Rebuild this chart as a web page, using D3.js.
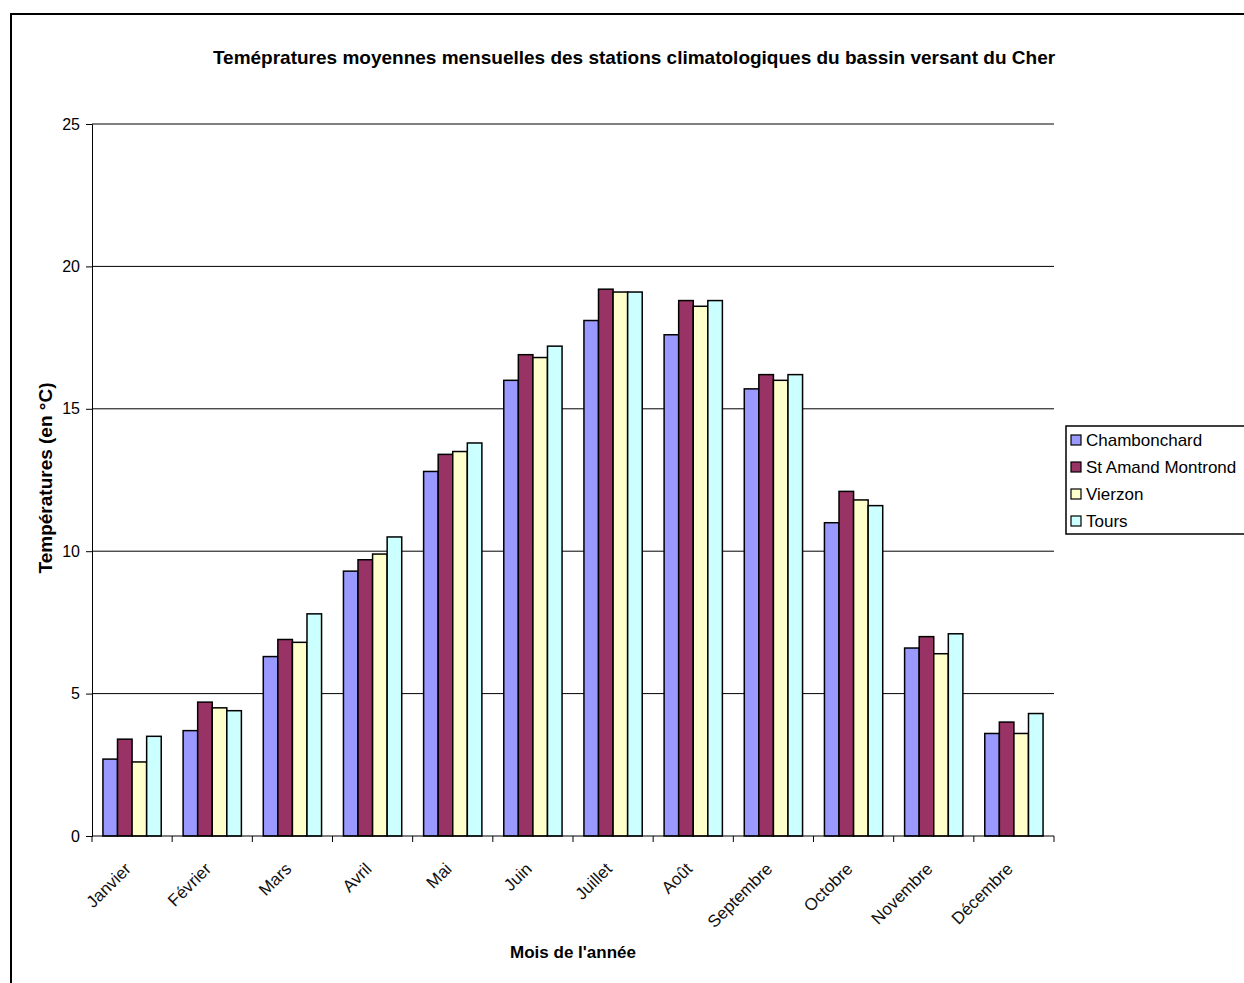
<!DOCTYPE html>
<html>
<head>
<meta charset="utf-8">
<script src="https://cdn.jsdelivr.net/npm/d3@7"></script>
<style>
  body { margin: 0; background: #fff; }
  svg { font-family: Arial, "Liberation Sans", sans-serif; }
</style>
</head>
<body>
<div id="chart"></div>
<script>
// Data
const months = ["Janvier", "Février", "Mars", "Avril", "Mai", "Juin", "Juillet", "Août", "Septembre", "Octobre", "Novembre", "Décembre"];
const stations = ["Chambonchard", "St Amand Montrond", "Vierzon", "Tours"];
const chambonchard = [2.7, 3.7, 6.3, 9.3, 12.8, 16.0, 18.1, 17.6, 15.7, 11.0, 6.6, 3.6];
const stAmand = [3.4, 4.7, 6.9, 9.7, 13.4, 16.9, 19.2, 18.8, 16.2, 12.1, 7.0, 4.0];
const vierzon = [2.6, 4.5, 6.8, 9.9, 13.5, 16.8, 19.1, 18.6, 16.0, 11.8, 6.4, 3.6];
const tours = [3.5, 4.4, 7.8, 10.5, 13.8, 17.2, 19.1, 18.8, 16.2, 11.6, 7.1, 4.3];
const yTicks = [0, 5, 10, 15, 20, 25];
const colors = ["#9999ff", "#993366", "#ffffcc", "#ccffff"];

const seriesValues = [chambonchard, stAmand, vierzon, tours];

const W = 1244, H = 983;
const margin = { top: 124, left: 92 };
const width = 1054 - margin.left;
const height = 836 - margin.top;

const svg = d3.select("#chart").append("svg")
    .attr("width", W)
    .attr("height", H);

// Outer frame (only top and left are visible)
svg.append("rect")
    .attr("x", 11).attr("y", 14)
    .attr("width", W + 20).attr("height", H + 20)
    .attr("fill", "none")
    .attr("stroke", "#000")
    .attr("stroke-width", 2);

const g = svg.append("g")
    .attr("transform", `translate(${margin.left},${margin.top})`);

// Scales
const x0 = d3.scaleBand()
    .domain(months)
    .range([0, width])
    .paddingInner(0.273)
    .paddingOuter(0.1365);

const x1 = d3.scaleBand()
    .domain(stations)
    .range([0, x0.bandwidth()]);

const y = d3.scaleLinear()
    .domain([0, 25])
    .range([height, 0]);

// Gridlines
g.selectAll(".grid")
    .data(yTicks.filter(d => d > 0))
    .enter()
    .append("line")
    .attr("class", "grid")
    .attr("x1", 0).attr("x2", width)
    .attr("y1", d => y(d)).attr("y2", d => y(d))
    .attr("stroke", "#000")
    .attr("stroke-width", 1);

// Bars
const groups = g.selectAll(".month")
    .data(months)
    .enter()
    .append("g")
    .attr("class", "month")
    .attr("transform", d => `translate(${x0(d)},0)`);

groups.selectAll("rect")
    .data((m, i) => stations.map((s, j) => ({ station: s, value: seriesValues[j][i], idx: j })))
    .enter()
    .append("rect")
    .attr("x", d => x1(d.station))
    .attr("y", d => y(d.value))
    .attr("width", x1.bandwidth())
    .attr("height", d => height - y(d.value))
    .attr("fill", d => colors[d.idx])
    .attr("stroke", "#000")
    .attr("stroke-width", 1.5);

// Y axis
const yAxis = d3.axisLeft(y).tickValues(yTicks).tickSize(6).tickPadding(6);
const yG = g.append("g").call(yAxis);
yG.select(".domain").attr("stroke", "#000");
yG.selectAll("text").style("font-size", "16px").attr("fill", "#000");

// X axis, ticks between the groups
const step = width / months.length;
const xG = g.append("g").attr("transform", `translate(0,${height})`);
xG.append("line")
    .attr("x1", 0).attr("x2", width)
    .attr("y1", 0).attr("y2", 0)
    .attr("stroke", "#000");
xG.selectAll(".xtick")
    .data(d3.range(months.length + 1))
    .enter()
    .append("line")
    .attr("x1", i => i * step).attr("x2", i => i * step)
    .attr("y1", 0).attr("y2", 6)
    .attr("stroke", "#000");
xG.selectAll(".xlabel")
    .data(months)
    .enter()
    .append("text")
    .attr("text-anchor", "end")
    .attr("transform", d => `translate(${x0(d) + x0.bandwidth() / 2},34) rotate(-45)`)
    .style("font-size", "17px")
    .attr("fill", "#111")
    .text(d => d);

// Titles
svg.append("text")
    .attr("x", 634).attr("y", 64)
    .attr("text-anchor", "middle")
    .style("font-size", "19px")
    .style("font-weight", "bold")
    .text("Teméprat" + "ures moyennes mensuelles des stations climatologiques du bassin versant du Cher");

svg.append("text")
    .attr("x", 573).attr("y", 958)
    .attr("text-anchor", "middle")
    .style("font-size", "17px")
    .style("font-weight", "bold")
    .text("Mois de l'année");

svg.append("text")
    .attr("transform", `translate(52,478) rotate(-90)`)
    .attr("text-anchor", "middle")
    .style("font-size", "19px")
    .style("font-weight", "bold")
    .text("Températures (en °C)");

// Legend
const legend = svg.append("g").attr("transform", "translate(1066,426)");
legend.append("rect")
    .attr("x", 0).attr("y", 0)
    .attr("width", 200).attr("height", 108)
    .attr("fill", "#fff")
    .attr("stroke", "#000")
    .attr("stroke-width", 1.5);
const items = legend.selectAll(".item")
    .data(stations)
    .enter()
    .append("g")
    .attr("transform", (d, i) => `translate(5,${14 + i * 27})`);
items.append("rect")
    .attr("x", 0).attr("y", -5)
    .attr("width", 10).attr("height", 10)
    .attr("fill", (d, i) => colors[i])
    .attr("stroke", "#000")
    .attr("stroke-width", 1.2);
items.append("text")
    .attr("x", 15).attr("y", 0)
    .attr("dy", "0.35em")
    .style("font-size", "17px")
    .text(d => d);
</script>
</body>
</html>
